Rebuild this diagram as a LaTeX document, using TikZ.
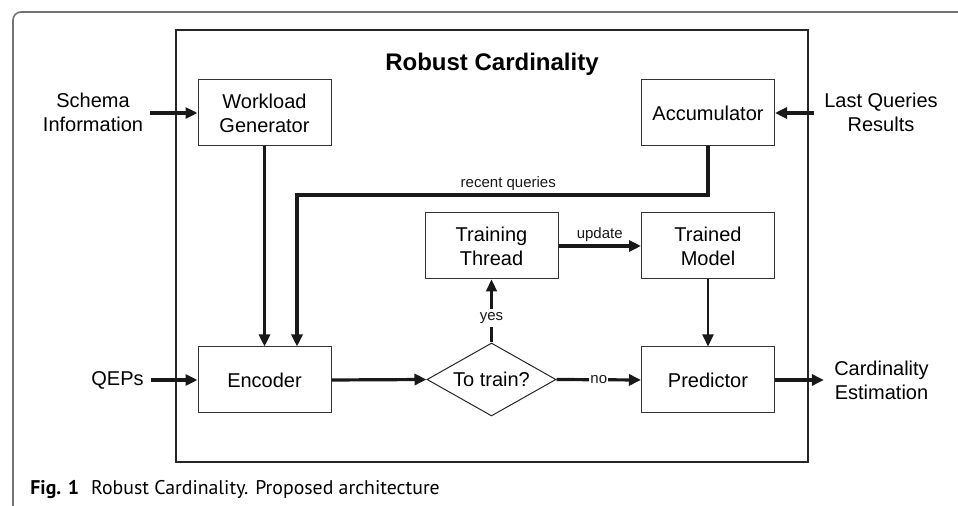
\documentclass[tikz,border=0pt]{standalone}
\usepackage{fontspec}
\setmainfont{Liberation Sans}
\newfontfamily\capfont{PT Sans}
\usetikzlibrary{arrows.meta,shapes.geometric}

\begin{document}
\begin{tikzpicture}[x=0.5pt,y=-0.5pt,
    box/.style={draw=black!80,line width=0.5pt,minimum width=66.5pt,minimum height=33pt,
                align=center,font=\fontsize{10}{12}\selectfont},
    txt/.style={align=center,font=\fontsize{10}{12}\selectfont},
    lbl/.style={font=\fontsize{7.5}{9}\selectfont,inner sep=1.5pt},
    arr/.style={-{Triangle[length=6pt,width=5.5pt]},line width=1.6pt,black!90},
    thinarr/.style={-{Triangle[length=6pt,width=5.5pt]},line width=1.1pt,black!90}]
	\useasboundingbox (0,0) rectangle (958,506);
	% outer frame and system box
	\draw[black!55,line width=0.8pt,rounded corners=4pt] (13,512) -- (13,12) -- (964,12);
	\draw[black!85,line width=0.7pt] (176,30) rectangle (808,462);
	\node[font=\fontsize{12}{14}\selectfont\bfseries] (title) at (492,64) {Robust Cardinality};
	% blocks
	\node[box] (wg) at (264.5,113) {Workload\\Generator};
	\node[box] (acc) at (708,113) {Accumulator};
	\node[box] (tt) at (491.5,246) {Training\\Thread};
	\node[box] (tm) at (708,246) {Trained\\Model};
	\node[box] (enc) at (264.5,380) {Encoder};
	\node[box] (pred) at (708,380) {Predictor};
	\node[draw=black!85,line width=0.5pt,diamond,aspect=1.77,inner sep=0pt,minimum width=64.5pt,
	      minimum height=36.5pt,font=\fontsize{10}{12}\selectfont] (dec) at (491.5,379.5) {To train?};
	% inputs and outputs
	\node[txt] (schema) at (93,112) {Schema\\Information};
	\node[txt] (qeps) at (117.5,380) {QEPs};
	\node[txt,inner sep=5pt] (last) at (881,112) {Last Queries\\Results};
	\node[txt,inner sep=5pt] (card) at (881.5,380) {Cardinality\\Estimation};
	\coordinate (rq) at (297,195);
	% connections
	\draw[arr] (schema.east |- wg.west) -- (wg.west);
	\draw[arr] (last.west |- acc.east) -- (acc.east);
	\draw[arr] (qeps.east) -- (enc.west);
	\draw[arr] (wg.south) -- (enc.north);
	\draw[arr] (acc.south) |- node[lbl,above,pos=0.743]{recent queries} (rq) -- (rq |- enc.north);
	\draw[arr] (enc.east) -- (dec.west);
	\draw[thinarr] (dec.north) -- node[lbl,fill=white,pos=0.39]{yes} (tt.south);
	\draw[arr] (dec.east) -- node[lbl,fill=white,inner sep=0.5pt]{no} (pred.west);
	\draw[arr] (tt.east) -- node[lbl,above]{update} (tm.west);
	\draw[thinarr] (tm.south) -- (pred.north);
	\draw[arr] (pred.east) -- (card.west);
	% caption
	\node[anchor=base west,inner sep=0pt,font=\capfont\fontsize{9.9}{11}\selectfont] (cap) at (30,495)
	     {\textbf{Fig. 1}\hspace{6pt}Robust Cardinality. Proposed architecture};
\end{tikzpicture}
\end{document}
